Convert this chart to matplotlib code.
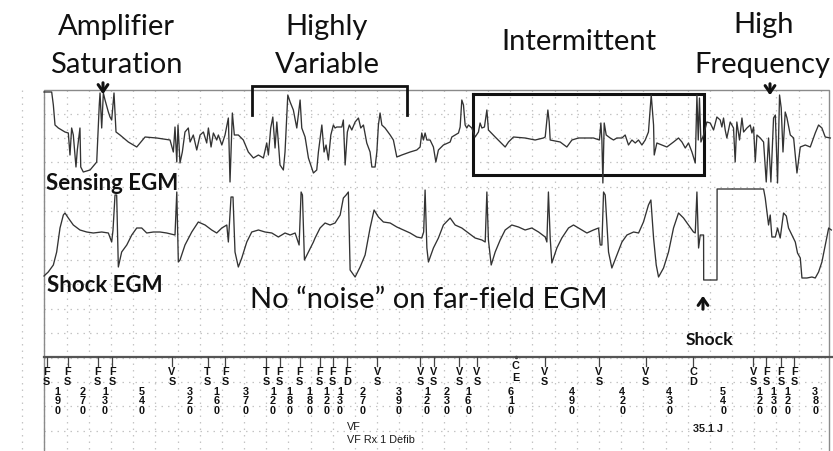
import numpy as np
import matplotlib
matplotlib.use('Agg')
import matplotlib.pyplot as plt
import matplotlib.transforms as mtransforms

# marker channel: intervals between detected events (ms) and the event codes
intervals = [190, 270, 130, 540, 320, 160, 370, 120, 180, 180, 120, 130, 270, 390,
             120, 230, 160, 610, 490, 420, 430, 540, 120, 130, 120, 380]
event_codes = ['FS', 'FS', 'FS', 'FS', 'VS', 'TS', 'FS', 'TS', 'FS', 'FS', 'FS', 'FS', 'FD',
               'VS', 'VS', 'VS', 'VS', 'VS', 'VS', 'VS', 'VS', 'CD', 'VS', 'FS', 'FS', 'FS']
charge_end_t = 4230  # 'CE' marker (ms)

# sensing (near-field) EGM, (time ms, amplitude mV)
sensing = [(-24, 4.8), (45, 4.8), (60, 3.5), (75, 1.5), (105, 1.2), (165, 0.8), (195, 0.7), (210, -1.5),
           (225, 1.2), (240, 0.5), (264, -2.7), (276, -1.0), (300, 1.2), (307, -2.7), (330, -3.2), (391, -3.0),
           (451, -2.2), (474, 3.5), (481, 4.7), (496, 1.2), (511, 4.7), (526, 4.0), (556, 2.8), (571, 2.3),
           (586, 2.0), (607, 4.7), (625, 0.8), (661, 0.5), (736, -0.2), (812, -0.7), (887, 0.3), (992, 0.2),
           (1112, 0.0), (1142, -1.2), (1157, 1.3), (1173, -2.2), (1184, 1.5), (1202, -2.3), (1223, -1.2),
           (1247, 0.8), (1277, 1.2), (1293, -0.2), (1322, 0.5), (1353, -1.0), (1383, 0.5), (1413, 0.8),
           (1443, -0.3), (1458, 1.2), (1482, -0.7), (1503, 0.7), (1533, 0.0), (1548, 0.5), (1579, -0.5),
           (1608, 0.5), (1638, 2.2), (1653, -4.2), (1674, 2.7), (1692, 0.5), (1728, 0.5), (1773, 0.0),
           (1818, -1.2), (1864, -1.8), (1909, -1.5), (1954, -1.8), (1984, -0.3), (1999, -1.5), (2020, 1.2),
           (2039, 2.3), (2059, -0.8), (2075, 1.8), (2104, -2.5), (2134, -3.0), (2149, -1.2), (2174, 4.5),
           (2195, 3.8), (2224, 3.0), (2255, 1.2), (2285, 4.0), (2300, 1.2), (2330, 0.3), (2360, -1.8),
           (2390, -2.8), (2405, -3.3), (2435, -3.0), (2450, -1.2), (2481, 1.5), (2501, -1.2), (2519, -0.5),
           (2540, -2.0), (2562, 0.5), (2585, 1.5), (2600, 1.2), (2616, 1.3), (2661, 1.3), (2675, 2.0),
           (2691, -2.5), (2711, 0.8), (2729, 1.5), (2751, 1.0), (2781, 1.8), (2811, 2.2), (2832, 1.2),
           (2856, 1.5), (2886, -0.3), (2916, -1.2), (2932, -2.7), (2961, -2.7), (2977, -1.2), (2991, 1.5),
           (3006, 2.7), (3022, 1.5), (3051, 1.2), (3097, 0.5), (3126, 0.0), (3157, -1.7), (3202, -1.5),
           (3277, -1.2), (3337, -1.0), (3367, -0.7), (3382, 0.7), (3397, 0.0), (3412, 0.7), (3428, 0.0),
           (3457, 0.0), (3487, -0.7), (3509, -2.2), (3532, -1.0), (3577, -0.5), (3638, -0.2), (3653, 0.3),
           (3713, 0.7), (3728, 1.3), (3743, 4.0), (3758, 3.5), (3773, 1.5), (3788, 1.2), (3803, 1.5),
           (3833, 1.2), (3863, 0.3), (3893, 0.8), (3908, 1.7), (3924, 1.2), (3947, 1.3), (3969, 3.0),
           (3983, 1.0), (4044, 0.3), (4089, -0.2), (4134, -0.7), (4164, -0.2), (4209, 0.3), (4314, 0.2),
           (4404, 0.0), (4479, 0.2), (4495, 0.3), (4519, 3.0), (4531, 1.8), (4540, 0.0), (4630, -0.2),
           (4690, -0.7), (4736, 0.0), (4795, 0.2), (4930, 0.2), (4984, 0.0), (4997, 1.7), (5006, 0.0),
           (5015, -4.3), (5027, 1.7), (5045, 0.5), (5081, 0.2), (5111, 0.0), (5141, 0.2), (5187, 0.2),
           (5216, 0.5), (5246, -0.5), (5277, 0.0), (5307, -0.3), (5336, 0.0), (5367, -0.5), (5397, 0.0),
           (5426, 0.8), (5451, 4.5), (5472, 1.5), (5478, -1.5), (5502, -0.3), (5547, -0.5), (5592, -0.7),
           (5652, -0.2), (5697, 0.2), (5728, -0.2), (5758, -0.8), (5787, -0.3), (5818, -1.2), (5848, -2.3),
           (5863, 4.5), (5875, 0.0), (5886, 4.2), (5899, -0.2), (5923, 0.5), (5953, 1.8), (5983, 1.7),
           (6013, 1.0), (6043, 2.3), (6073, 2.0), (6088, 1.3), (6103, 2.2), (6118, 1.0), (6133, 0.2),
           (6163, 1.8), (6193, 1.2), (6208, -2.2), (6223, 1.8), (6247, 0.0), (6269, 2.2), (6284, 0.8),
           (6314, 1.2), (6344, 1.5), (6359, 0.7), (6374, 1.3), (6389, -2.2), (6404, 0.5), (6434, 0.2),
           (6464, -0.2), (6488, -4.2), (6509, 0.2), (6530, -4.2), (6554, 2.2), (6570, 2.5), (6590, -4.3),
           (6608, 4.5), (6623, 3.2), (6639, -1.2), (6659, 2.8), (6675, 2.2), (6705, 0.5), (6735, 0.2),
           (6765, -3.3), (6795, -0.7), (6840, -0.5), (6885, -0.7), (6930, 0.7), (6960, 1.5), (6990, 1.2),
           (7020, 0.3), (7066, 0.2)]

# shock (far-field) EGM, (time ms, amplitude mV)
shock = [(-24, -4.6), (-15, -4.5), (14, -4.2), (60, -3.5), (90, -2.2), (120, 0.2), (150, 1.5), (165, 1.7),
         (195, 1.2), (240, 0.5), (300, 0.0), (361, -0.2), (420, -0.3), (496, -0.2), (556, -0.3), (586, -1.2),
         (598, 0.0), (616, 3.5), (631, 3.5), (646, -3.7), (676, -2.2), (722, -1.5), (767, -0.5), (812, 0.2),
         (857, 0.2), (902, -0.3), (962, -0.2), (1022, -0.2), (1082, -0.3), (1157, -0.5), (1173, 3.8),
         (1187, -3.2), (1202, -3.0), (1247, -1.5), (1308, -0.2), (1367, 0.8), (1428, 0.5), (1488, 0.0),
         (1533, -0.3), (1579, 0.2), (1624, 0.5), (1638, -1.2), (1662, 3.3), (1680, 3.3), (1698, -2.2),
         (1728, -3.7), (1759, -2.8), (1804, -1.2), (1849, -0.2), (1909, 0.0), (1969, -0.2), (2030, -0.3),
         (2089, -0.7), (2149, -0.3), (2195, -0.5), (2240, -0.3), (2276, -1.5), (2294, 3.8), (2306, 3.5),
         (2324, -3.0), (2360, -2.2), (2405, -1.2), (2420, -0.8), (2465, 0.2), (2510, 0.7), (2555, 0.5),
         (2600, 0.7), (2646, 1.5), (2675, 3.2), (2700, 3.5), (2720, 3.8), (2736, -4.0), (2781, -4.7),
         (2826, -3.7), (2871, -2.5), (2916, 0.2), (2952, 2.0), (2991, 1.3), (3036, 0.8), (3097, 0.7),
         (3157, 0.3), (3217, 0.0), (3277, -0.3), (3337, -0.7), (3382, -0.8), (3399, -0.2), (3412, 4.0),
         (3428, -1.8), (3442, -3.2), (3487, -1.8), (3532, -0.8), (3577, 0.5), (3638, 1.2), (3683, 0.5),
         (3743, 0.2), (3803, -0.3), (3863, -0.8), (3924, -1.0), (3954, -1.2), (3969, 3.8), (3983, -1.0),
         (4008, -3.5), (4044, -2.2), (4089, -1.0), (4134, 0.0), (4194, 0.5), (4254, 0.3), (4314, 0.0),
         (4374, 0.2), (4435, -0.2), (4495, -0.7), (4510, -1.2), (4524, 3.8), (4540, -0.8), (4555, -3.3),
         (4600, -1.8), (4645, -0.8), (4705, 0.2), (4750, 0.5), (4795, 0.2), (4871, -0.3), (4930, 0.0),
         (4976, 0.2), (4991, -1.5), (5006, -1.5), (5021, 3.8), (5036, 3.5), (5066, -2.2), (5096, -3.8),
         (5141, -2.5), (5187, -1.2), (5232, -0.5), (5292, -0.2), (5337, -0.3), (5381, 0.8), (5426, 2.5),
         (5448, 3.0), (5472, -0.8), (5496, -3.5), (5517, -4.7), (5562, -3.8), (5607, -2.2), (5652, 0.2),
         (5697, 1.7), (5742, 1.2), (5787, 0.5), (5832, -0.2), (5848, -0.3), (5863, 3.8), (5878, -1.8),
         (5893, -0.5), (5923, -0.5), (5924, -5.0), (6044, -5.0), (6045, 4.1), (6464, 4.1), (6479, 3.2),
         (6509, 0.5), (6524, 1.5), (6539, -0.7), (6570, -0.7), (6590, 0.2), (6614, -0.8), (6644, 1.7),
         (6669, 1.4), (6689, 0.2), (6720, -0.5), (6750, -1.2), (6770, -2.3), (6795, -2.8), (6810, -4.8),
         (6855, -4.8), (6900, -4.7), (6930, -4.8), (6960, -4.2), (6990, -3.2), (7020, -1.5), (7051, 0.2),
         (7075, 0.0)]

W, H = 833, 451
fig = plt.figure(figsize=(W / 100, H / 100), dpi=100)
ax = fig.add_axes([0, 0, 1, 1])
ax.set_xlim(-421, 7090)
ax.set_ylim(-45.1, 0)
ax.axis('off')
# pixel coordinates for the annotation layer
pix = mtransforms.Affine2D().scale(1 / W, -1 / H).translate(0, 1) + fig.transFigure

SENS_BASE = -14.0
SHOCK_BASE = -23.0
MARK_BASE = -35.7

# dotted background grid
grid_kw = dict(color='#c4c4c4', lw=0.9, ls=(0, (1.2, 4)), zorder=0)
for t in np.arange(-220, 7090, 200):
    ax.plot([t, t], [-9.0, -45.1], **grid_kw)
for k in range(14):
    y = 113.5 + 24.4 * k
    ax.plot([44, 829], [y, y], transform=pix, **grid_kw)

# strip frame
frame_kw = dict(color='#8a8a8a', lw=1.0, zorder=1)
ax.plot([44, 44, 829, 829], [451, 89.5, 89.5, 451], transform=pix, **frame_kw)
ax.plot([44, 833], [357, 357], transform=pix, color='#555555', lw=1.6, zorder=1)

# EGM traces
st, sv = np.array(sensing).T
ax.plot(st, SENS_BASE + sv, color='#333333', lw=0.95, zorder=3)
kt, kv = np.array(shock).T
ax.plot(kt, SHOCK_BASE + kv, color='#333333', lw=0.95, zorder=3)

# marker channel
small = dict(family=['Liberation Sans', 'DejaVu Sans'],
             fontweight='bold', fontsize=7.8, ha='center', va='center', color='#111111')
event_t = np.concatenate([[0], np.cumsum(intervals)])
for i, code in enumerate(event_codes):
    x = event_t[i]
    ax.plot([x, x], [MARK_BASE, MARK_BASE - 0.9], color='#444444', lw=0.9)
    ax.text(x, -37.17, code[0], **small)
    ax.text(x, -38.23, code[1], **small)
for i, iv in enumerate(intervals):
    mid = (event_t[i] + event_t[i + 1]) / 2
    for j, ch in enumerate(str(iv)):
        ax.text(mid, -39.17 - 0.96 * j, ch, **small)
ax.plot([charge_end_t], [MARK_BASE], marker='o', ms=1.5, color='#444444')
ax.text(charge_end_t, -36.6, 'C', **small)
ax.text(charge_end_t, -37.77, 'E', **small)

fd_t = event_t[event_codes.index('FD')]
cd_t = event_t[event_codes.index('CD')]
note = dict(family=['Liberation Sans Narrow', 'Liberation Sans', 'DejaVu Sans'], fontsize=7.8,
            ha='left', va='center', color='#1a1a1a')
ax.text(fd_t, -42.67, 'VF', **note)
ax.text(fd_t, -44.0, 'VF Rx 1 Defib', **note)
ax.text(cd_t, -42.9, '35.1 J', fontweight='bold', **note)

# annotations
big = dict(family=['Lato', 'DejaVu Sans'], fontsize=21, ha='center', va='center', color='#111111')
ax.text(116, 27, 'Amplifier', transform=pix, **big)
ax.text(116, 65, 'Saturation', transform=pix, **big)
ax.text(327, 27, 'Highly', transform=pix, **big)
ax.text(327, 65, 'Variable', transform=pix, **big)
ax.text(579, 42, 'Intermittent', transform=pix, **big)
ax.text(764, 25, 'High', transform=pix, **big)
ax.text(762, 65, 'Frequency', transform=pix, **big)
ax.text(429, 300, 'No \u201cnoise\u201d on far-field EGM', transform=pix, **big)

lab = dict(family=['Lato', 'DejaVu Sans'], fontweight='bold', ha='left', va='center', color='#111111')
ax.text(46, 184, 'Sensing EGM', transform=pix, fontsize=16, **lab)
ax.text(47, 285, 'Shock EGM', transform=pix, fontsize=16, **lab)
ax.text(686, 340, 'Shock', transform=pix, fontsize=12.6, **lab)

arrow_kw = dict(arrowstyle='->,head_length=0.5,head_width=0.35', lw=2.2, color='#111111')
ax.annotate('', xy=(103, 97), xytext=(103, 80), xycoords=pix, textcoords=pix, arrowprops=arrow_kw)
ax.annotate('', xy=(770, 98), xytext=(770, 81), xycoords=pix, textcoords=pix, arrowprops=arrow_kw)
ax.annotate('', xy=(703, 293), xytext=(703, 312), xycoords=pix, textcoords=pix, arrowprops=arrow_kw)

ax.plot([251.7, 251.7, 406.7, 406.7], [115, 86, 86, 115], transform=pix, color='#111111', lw=2.0,
        solid_joinstyle='miter')
ax.plot([473.3, 704, 704, 473.3, 473.3], [94, 94, 175, 175, 94], transform=pix, color='#111111',
        lw=2.2, solid_joinstyle='miter')

fig.savefig('out.png', dpi=100, facecolor='white')
